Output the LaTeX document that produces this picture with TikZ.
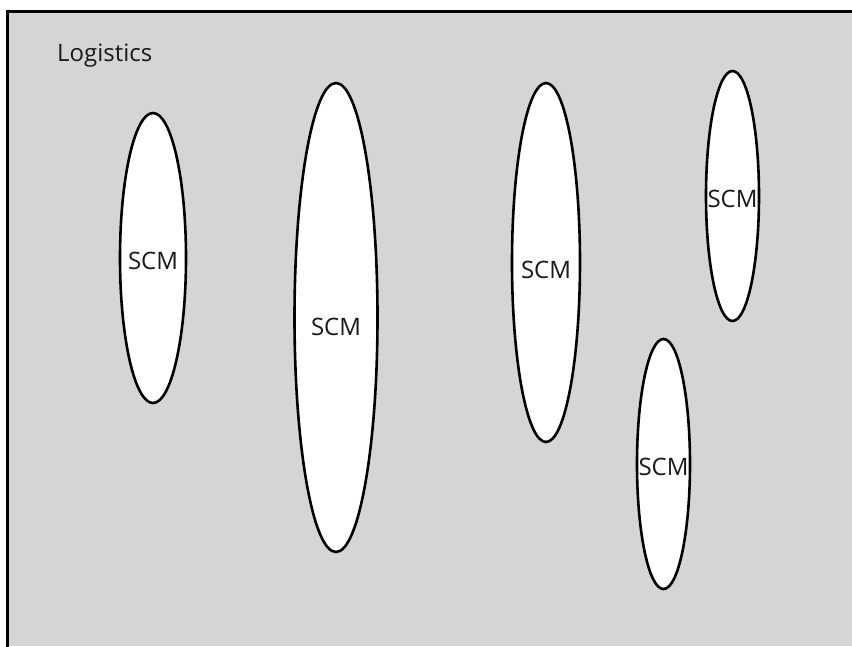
\documentclass[tikz,border=0pt]{standalone}
\usepackage{fontspec}
\setmainfont{Open Sans}
\usetikzlibrary{shapes.geometric}
\definecolor{bggray}{RGB}{213,213,213}
\tikzset{
  scm/.style={ellipse, draw=black, line width=2.6pt, fill=white, inner sep=0pt},
  lbl/.style={font=\fontsize{24}{26}\selectfont, text=black!90, inner sep=0pt},
}
\begin{document}
\begin{tikzpicture}[x=1pt,y=-1pt]
\useasboundingbox (0,0) rectangle (852,646);
\fill[white] (0,0) rectangle (852,646);
\fill[bggray] (7,11) rectangle (852,646);
\draw[line width=3pt, line cap=rect] (7,646) -- (7,11) -- (852,11);
\node[lbl, anchor=west] (title) at (57,56) {Logistics};
\node[scm, minimum width=66pt, minimum height=290pt] (e1) at (153,258) {};
\node[scm, minimum width=83pt, minimum height=469pt] (e2) at (336,317.5) {};
\node[scm, minimum width=68pt, minimum height=359pt] (e3) at (546,262.5) {};
\node[scm, minimum width=53pt, minimum height=250pt] (e4) at (732.5,196) {};
\node[scm, minimum width=53pt, minimum height=250pt] (e5) at (663.5,464) {};
\node[lbl] (t1) at (153,261) {SCM};
\node[lbl] (t2) at (336,327) {SCM};
\node[lbl] (t3) at (546,270) {SCM};
\node[lbl] (t4) at (732.5,199) {SCM};
\node[lbl] (t5) at (663.5,467) {SCM};
\end{tikzpicture}
\end{document}
